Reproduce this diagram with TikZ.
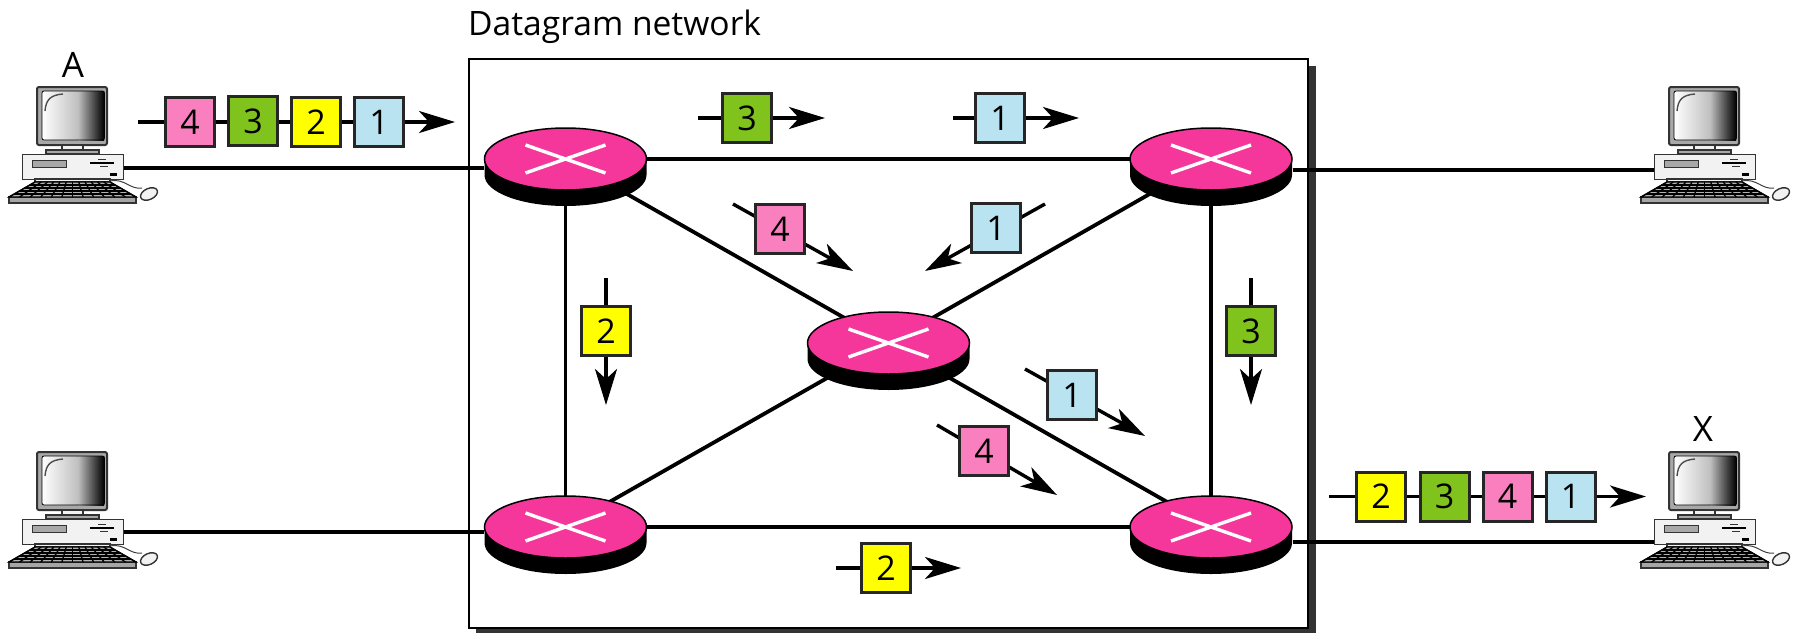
\documentclass[tikz,border=0pt]{standalone}
\usepackage{fontspec}
\setmainfont{Open Sans}
\usetikzlibrary{arrows.meta,backgrounds,shapes.geometric}
\definecolor{pk4}{HTML}{F97FBE}
\definecolor{pk3}{HTML}{80C31C}
\definecolor{pk2}{HTML}{FFFF00}
\definecolor{pk1}{HTML}{B9E3F0}
\definecolor{rt}{HTML}{F5379B}
\definecolor{frameshadow}{HTML}{333333}
\definecolor{pcgray}{HTML}{F2F2F2}
\definecolor{pcmid}{HTML}{A8A8A8}
\tikzset{
  x=1pt,y=-1pt,
  link/.style={line width=3.8pt,black},
  flow/.style={line width=3.4pt,-{Stealth[length=36pt,width=22pt,inset=10pt]}},
  packet/.style={draw=black!85,line width=3pt,minimum size=49pt,inner sep=0pt,font=\fontsize{34}{38}\selectfont},
  routertop/.style={ellipse,draw=black,line width=1.5pt,fill=rt,minimum width=162pt,minimum height=62pt,inner sep=0pt},
  cross/.style={white,line width=3.4pt},
  pcline/.style={draw=black!80,line width=1.4pt},
  label/.style={font=\fontsize{35}{38}\selectfont,inner sep=0pt},
  titlelabel/.style={font=\fontsize{33.6}{38}\selectfont,inner sep=0pt},
}
\newcommand\router[3]{%
  \fill[black] (#2-81,#3) -- (#2-81,#3+16) arc[start angle=180,end angle=360,x radius=81,y radius=-31] -- (#2+81,#3) -- cycle;
  \node[routertop] (#1) at (#2,#3) {};
  \draw[cross] (#2-40,#3-14) -- (#2+40,#3+14);
  \draw[cross] (#2-40,#3+14) -- (#2+40,#3-14);
}
\newcommand\pkt[9]{%
  \begin{pgfonlayer}{background}
    \coordinate (#1s) at (#6,#7);
    \coordinate (#1e) at (#8,#9);
    \draw[flow] (#1s) -- (#1e);
  \end{pgfonlayer}
  \node[packet,fill=#4] (#1) at (#2,#3) {#5};
}
\newcommand\computer[3]{%
  \begin{scope}[shift={(#2,#3)}]
    % monitor
    \draw[pcline,line width=2pt,fill=pcmid,rounded corners=2pt] (37,87) rectangle (107,145);
    \shade[left color=white,right color=white!75!black,rounded corners=2pt] (42,91) rectangle (78,140);
    \shade[left color=white!75!black,right color=black] (78,91) rectangle (104,140);
    \draw[black,line width=0.8pt,rounded corners=2pt] (42,91) rectangle (104.5,140);
    \draw[black!70,line width=1.4pt] (45,111) .. controls (46,100) and (50,95) .. (63,94);
    % stand
    \draw[pcline,fill=pcgray] (62,145) rectangle (83,150);
    \draw[pcline,fill=pcmid] (46,150) rectangle (99,154);
    % case
    \node[pcline,fill=pcgray,minimum width=101pt,minimum height=25pt,inner sep=0pt,anchor=north west] (#1) at (22,154) {};
    \draw[pcline,line width=1pt,fill=pcmid] (32,160) rectangle (66,167);
    \draw[black,line width=2pt] (90,163) -- (114,163);
    \draw[black!80,line width=1.2pt] (98,159.5) -- (106,159.5) (100,166.5) -- (108,166.5);
    \fill[black] (110,173) rectangle (117,176);
    % keyboard
    \draw[pcline,fill=pcgray] (35,179) rectangle (110,182);
    \draw[pcline,fill=white!65!black,line width=1.2pt] (9,197) rectangle (136,203);
    \draw[black,fill=white!70!black,line width=1.2pt] (35,182) -- (110,182) -- (136,197) -- (9,197) -- cycle;
    \foreach \t in {0.2,0.4,0.6,0.8} {
      \draw[black,line width=1.3pt] (35-26*\t,182+15*\t) -- (110+26*\t,182+15*\t);
    }
    \foreach \k in {0,1,...,12} {
      \draw[black,line width=1.3pt] (35+\k*75/12,182) -- (9+\k*127/12,197);
    }
    % mouse
    \draw[black!75,line width=1pt] (110,181) .. controls (125,178) and (130,190) .. (142,188);
    \draw[pcline,fill=pcgray,rotate around={25:(149,194)}] (149,194) ellipse[x radius=9,y radius=5.5];
  \end{scope}
}
\begin{document}
\begin{tikzpicture}
\useasboundingbox (0,0) rectangle (1796,632);
\begin{pgfonlayer}{background}
  \fill[white] (0,0) rectangle (1796,632);
  \fill[frameshadow] (476,66) rectangle (1316,635);
  \node[draw=black,line width=2pt,fill=white,minimum width=839pt,minimum height=569pt,inner sep=0pt,anchor=north west] (net) at (468,58) {};
\end{pgfonlayer}
\node[titlelabel,anchor=base west] (title) at (468,35) {Datagram network};
\node[label] (lA) at (73,65) {A};
\node[label] (lX) at (1703,429) {X};
\computer{pcA}{0}{0}
\computer{pcB}{0}{365}
\computer{pcC}{1632}{0}
\computer{pcX}{1632}{365}
\router{r1}{565.5}{159}
\router{r2}{1211}{159}
\router{rc}{888.5}{343}
\router{r4}{565.5}{527}
\router{r5}{1211}{527}
\begin{pgfonlayer}{background}
  \draw[link] (r1.center) -- (r2.center);
  \draw[link] (r4.center) -- (r5.center);
  \draw[link] (r1.center) -- (r4.center);
  \draw[link] (r2.center) -- (r5.center);
  \draw[link] (r1.center) -- (rc.center);
  \draw[link] (r2.center) -- (rc.center);
  \draw[link] (rc.center) -- (r4.center);
  \draw[link] (rc.center) -- (r5.center);
  \draw[link] ([yshift=-9pt]r1.west) -- ([yshift=-9pt]r1.west -| pcA.east);
  \draw[link] ([yshift=-5pt]r4.west) -- ([yshift=-5pt]r4.west -| pcB.east);
  \draw[link] ([yshift=-11pt]r2.east) -- ([yshift=-11pt]r2.east -| pcC.west);
  \draw[link] ([yshift=-15pt]r5.east) -- ([yshift=-15pt]r5.east -| pcX.west);
\end{pgfonlayer}
% input train
\begin{pgfonlayer}{background}
  \coordinate (ins) at (138,122); \coordinate (ine) at (455,122);
  \draw[flow] (ins) -- (ine);
  \coordinate (outs) at (1329,496.5); \coordinate (oute) at (1646,496.5);
  \draw[flow] (outs) -- (oute);
\end{pgfonlayer}
\node[packet,fill=pk4] (i4) at (190,122) {4};
\node[packet,fill=pk3] (i3) at (253,121) {3};
\node[packet,fill=pk2] (i2) at (316,122) {2};
\node[packet,fill=pk1] (i1) at (379,122) {1};
\node[packet,fill=pk2] (o2) at (1381,496.5) {2};
\node[packet,fill=pk3] (o3) at (1444.5,496.5) {3};
\node[packet,fill=pk4] (o4) at (1507.5,496.5) {4};
\node[packet,fill=pk1] (o1) at (1570.5,496.5) {1};
\pkt{a}{747}{118}{pk3}{3}{698}{118}{825}{118}
\pkt{b}{1000}{118}{pk1}{1}{953}{118}{1079}{118}
\pkt{c}{780}{229}{pk4}{4}{733}{204}{853}{271}
\pkt{d}{996}{228}{pk1}{1}{1045}{204}{925}{271}
\pkt{e}{606}{331}{pk2}{2}{606}{278}{606}{405}
\pkt{f}{1251}{331}{pk3}{3}{1251}{278}{1251}{405}
\pkt{g}{1072}{395}{pk1}{1}{1025}{369}{1145}{436}
\pkt{h}{984}{451}{pk4}{4}{937}{425}{1057}{495}
\pkt{i}{886}{568}{pk2}{2}{836}{568}{961}{568}
\end{tikzpicture}
\end{document}
